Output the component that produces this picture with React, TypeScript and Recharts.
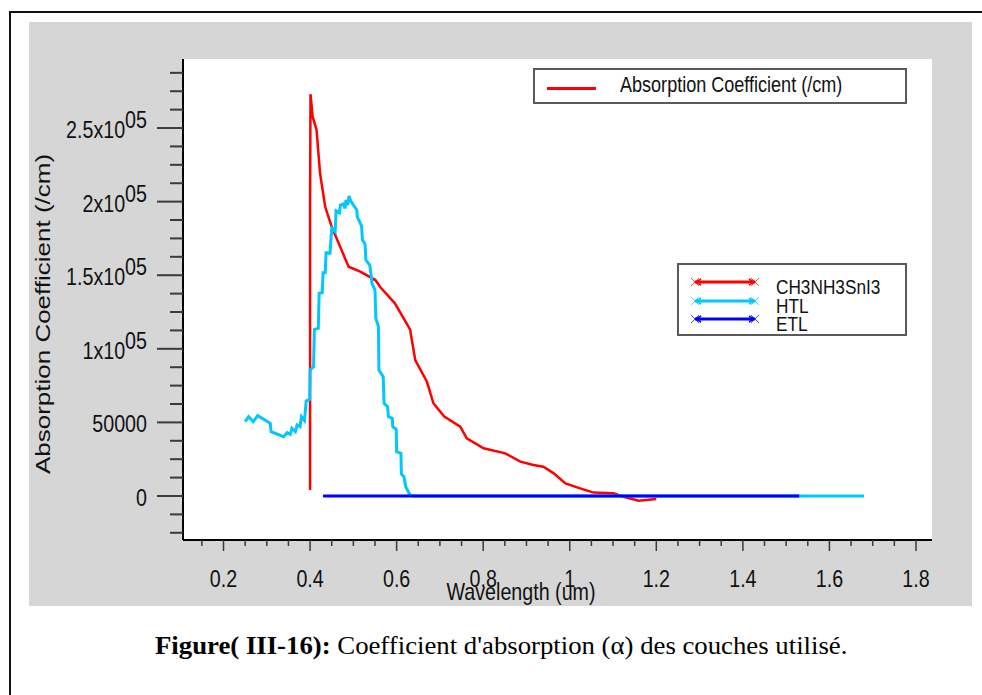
import React from "react";
import { LineChart, Line, XAxis, YAxis, CartesianGrid } from "recharts";

// CH3NH3SnI3 absorber
const absorberWavelength = [
  0.4, 0.4, 0.401, 0.406, 0.415, 0.423, 0.435, 0.45, 0.489, 0.516, 0.551, 0.562,
  0.596, 0.631, 0.643, 0.67, 0.685, 0.71, 0.747, 0.762, 0.801, 0.851, 0.886,
  0.916, 0.939, 0.963, 0.99, 1.024, 1.055, 1.101, 1.124, 1.159, 1.2,
];
const absorberAlpha = [
  4000, 200000, 273000, 257700, 248600, 219400, 196500, 182900, 155800, 152400,
  146700, 142000, 130900, 113200, 92400, 77600, 63000, 54000, 47100, 39200, 32400,
  29000, 23300, 21100, 19900, 15400, 8600, 5200, 2300, 1800, -500, -3200, -2000,
];

// HTL
const htlWavelength = [
  0.25, 0.258, 0.269, 0.279, 0.308, 0.31, 0.339, 0.347, 0.354, 0.358, 0.366, 0.37,
  0.377, 0.38, 0.387, 0.391, 0.399, 0.4, 0.408, 0.41, 0.419, 0.421, 0.428, 0.43,
  0.435, 0.437, 0.446, 0.45, 0.458, 0.46, 0.468, 0.47, 0.477, 0.481, 0.483, 0.487,
  0.49, 0.494, 0.5, 0.508, 0.509, 0.519, 0.521, 0.527, 0.529, 0.538, 0.542, 0.543,
  0.55, 0.552, 0.558, 0.559, 0.569, 0.571, 0.579, 0.581, 0.59, 0.591, 0.599, 0.6,
  0.61, 0.611, 0.617, 0.621, 0.631, 0.64, 1.68,
];
const htlAlpha = [
  50500, 53900, 50500, 54600, 49400, 43700, 40300, 43000, 41900, 46000, 43700,
  48200, 47100, 53900, 51200, 64500, 65700, 85600, 87800, 113200, 113900, 137700,
  138100, 151700, 151700, 165300, 164900, 181900, 179500, 193800, 192400, 197700,
  198400, 195400, 201100, 197700, 203800, 200600, 197700, 194300, 189700, 183400,
  173900, 171200, 160300, 156900, 147900, 144500, 139900, 120700, 115000, 85600,
  81000, 63000, 60700, 53900, 52800, 47100, 45300, 30100, 29000, 14900, 13100,
  6300, 700, 0, 0,
];

// ETL
const etlWavelength = [0.43, 1.53];
const etlAlpha = [0, 0];

const xTicks = [
  0.15, 0.2, 0.25, 0.3, 0.35, 0.4, 0.45, 0.5, 0.55, 0.6, 0.65, 0.7, 0.75, 0.8,
  0.85, 0.9, 0.95, 1, 1.05, 1.1, 1.15, 1.2, 1.25, 1.3, 1.35, 1.4, 1.45, 1.5, 1.55,
  1.6, 1.65, 1.7, 1.75, 1.8,
];
const xMajorTicks = [0.2, 0.4, 0.6, 0.8, 1, 1.2, 1.4, 1.6, 1.8];
const xMajorLabels = ["0.2", "0.4", "0.6", "0.8", "1", "1.2", "1.4", "1.6", "1.8"];

const yTicks = [
  -25000, -12500, 0, 12500, 25000, 37500, 50000, 62500, 75000, 87500, 100000,
  112500, 125000, 137500, 150000, 162500, 175000, 187500, 200000, 212500, 225000,
  237500, 250000, 262500, 275000, 287500,
];
const yMajorTicks = [0, 50000, 100000, 150000, 200000, 250000];
const yMajorLabels = [
  ["0", ""],
  ["50000", ""],
  ["1x10", "05"],
  ["1.5x10", "05"],
  ["2x10", "05"],
  ["2.5x10", "05"],
];

const xDomain = [0.1064, 1.837];
const yDomain = [-29900, 296900];

const toPoints = (xs: number[], ys: number[]) => xs.map((x, i) => ({ x, y: ys[i] }));

const series = [
  { name: "CH3NH3SnI3", color: "#ff0000", width: 2.5, data: toPoints(absorberWavelength, absorberAlpha) },
  { name: "HTL", color: "#00c8ff", width: 3, data: toPoints(htlWavelength, htlAlpha) },
  { name: "ETL", color: "#0000ff", width: 3, data: toPoints(etlWavelength, etlAlpha) },
];

const SANS = '"Liberation Sans", Arial, sans-serif';
const SERIF = '"Liberation Serif", "Times New Roman", serif';
const SQUEEZE = 0.82;

function YTick(props: any) {
  const { x, y, payload } = props;
  const i = yMajorTicks.indexOf(payload.value);
  const major = i >= 0;
  return (
    <g>
      <line x1={x - (major ? 26 : 13)} x2={x} y1={y} y2={y} stroke="#3a3a3a" strokeWidth={2} />
      {major && (
        <text
          transform={`translate(${x - 36},${y + 10}) scale(${SQUEEZE},1)`}
          textAnchor="end"
          fontFamily={SANS}
          fontSize={24}
          fill="#111"
        >
          {yMajorLabels[i][0]}
          {yMajorLabels[i][1] && <tspan dy={-10}>{yMajorLabels[i][1]}</tspan>}
        </text>
      )}
    </g>
  );
}

function XTick(props: any) {
  const { x, y, payload } = props;
  const i = xMajorTicks.findIndex((t) => Math.abs(t - payload.value) < 1e-6);
  const major = i >= 0;
  return (
    <g>
      <line x1={x} x2={x} y1={y} y2={y + (major ? 11 : 6)} stroke="#3a3a3a" strokeWidth={1.5} />
      {major && (
        <text
          transform={`translate(${x},${y + 47}) scale(${SQUEEZE},1)`}
          textAnchor="middle"
          fontFamily={SANS}
          fontSize={24}
          fill="#111"
        >
          {xMajorLabels[i]}
        </text>
      )}
    </g>
  );
}

const renderXTitle = () => (
  <text
    transform={`translate(492,578) scale(${SQUEEZE},1)`}
    textAnchor="middle"
    fontFamily={SANS}
    fontSize={24}
    fill="#111"
  >
    Wavelength (um)
  </text>
);

const renderYTitle = () => (
  <text
    transform="translate(14,292) scale(0.8,1) rotate(-90)"
    textAnchor="middle"
    dominantBaseline="central"
    fontFamily={SANS}
    fontSize={26}
    fill="#111"
  >
    Absorption Coefficient (/cm)
  </text>
);

function LegendSwatch({ color }: { color: string }) {
  return (
    <svg width={72} height={12} style={{ display: "block" }}>
      <line x1={6} x2={66} y1={6} y2={6} stroke={color} strokeWidth={3} />
      <path d="M2,2 L10,10 M2,10 L10,2" stroke={color} strokeWidth={1} opacity={0.7} />
      <path d="M62,2 L70,10 M62,10 L70,2" stroke={color} strokeWidth={1} opacity={0.7} />
      <path d="M12,3 L7,6 L12,9 M60,3 L65,6 L60,9" stroke={color} strokeWidth={1.5} fill="none" />
    </svg>
  );
}

export default function App() {
  return (
    <div
      style={{
        position: "absolute",
        left: 0,
        top: 0,
        width: 982,
        height: 695,
        overflow: "hidden",
        background: "#fff",
      }}
    >
      {/* page frame */}
      <div
        style={{
          position: "absolute",
          left: 9,
          top: 11,
          width: 1000,
          height: 1000,
          border: "2px solid #111",
        }}
      />
      {/* grey figure panel */}
      <div
        style={{
          position: "absolute",
          left: 29,
          top: 22,
          width: 943,
          height: 584,
          background: "#d6d6d6",
        }}
      >
        <LineChart width={943} height={584} margin={{ top: 37, right: 40, bottom: 0, left: 0 }}>
          <CartesianGrid fill="#fff" horizontal={false} vertical={false} />
          <XAxis
            dataKey="x"
            type="number"
            domain={xDomain}
            allowDataOverflow
            ticks={xTicks}
            interval={0}
            tick={(p: any) => <XTick {...p} />}
            tickSize={0}
            tickMargin={0}
            tickLine={false}
            height={66}
            axisLine={{ stroke: "#000", strokeWidth: 2 }}
            label={renderXTitle}
          />
          <XAxis
            xAxisId="top"
            orientation="top"
            type="number"
            domain={xDomain}
            allowDataOverflow
            height={0}
            tick={false}
            tickLine={false}
            axisLine={{ stroke: "#222", strokeWidth: 2 }}
          />
          <YAxis
            type="number"
            domain={yDomain}
            allowDataOverflow
            ticks={yTicks}
            interval={0}
            tick={(p: any) => <YTick {...p} />}
            tickSize={0}
            tickMargin={0}
            tickLine={false}
            width={154}
            axisLine={{ stroke: "#000", strokeWidth: 2 }}
            label={renderYTitle}
          />
          <YAxis
            yAxisId="right"
            orientation="right"
            type="number"
            domain={yDomain}
            allowDataOverflow
            width={0}
            tick={false}
            tickLine={false}
            axisLine={{ stroke: "#333", strokeWidth: 2 }}
          />
          {series.map((s) => (
            <Line
              key={s.name}
              data={s.data}
              dataKey="y"
              name={s.name}
              type="linear"
              stroke={s.color}
              strokeWidth={s.width}
              dot={false}
              activeDot={false}
              isAnimationActive={false}
            />
          ))}
        </LineChart>

        {/* legend: quantity */}
        <div
          style={{
            position: "absolute",
            left: 504,
            top: 46,
            width: 370,
            height: 32,
            border: "2px solid #5a5a5a",
            background: "#fff",
          }}
        >
          <div
            style={{
              position: "absolute",
              left: 12,
              top: 17,
              width: 49,
              height: 3,
              background: series[0].color,
            }}
          />
          <div
            style={{
              position: "absolute",
              left: 85,
              top: 2,
              fontFamily: SANS,
              fontSize: 22,
              lineHeight: "26px",
              whiteSpace: "nowrap",
              color: "#111",
              transform: `scaleX(${SQUEEZE})`,
              transformOrigin: "left center",
            }}
          >
            Absorption Coefficient (/cm)
          </div>
        </div>

        {/* legend: layers */}
        <div
          style={{
            position: "absolute",
            left: 648,
            top: 241,
            width: 226,
            height: 69,
            border: "2px solid #5a5a5a",
            background: "#fff",
          }}
        >
          {series.map((s, i) => (
            <div key={s.name}>
              <div style={{ position: "absolute", left: 10, top: 11 + i * 18.5 }}>
                <LegendSwatch color={s.color} />
              </div>
              <div
                style={{
                  position: "absolute",
                  left: 97,
                  top: 10 + i * 18.5,
                  fontFamily: SANS,
                  fontSize: 21,
                  lineHeight: "24px",
                  whiteSpace: "nowrap",
                  color: "#111",
                  transform: `scaleX(${SQUEEZE})`,
                  transformOrigin: "left center",
                }}
              >
                {s.name}
              </div>
            </div>
          ))}
        </div>
      </div>

      {/* caption */}
      <div
        style={{
          position: "absolute",
          left: 155,
          top: 632,
          fontFamily: SERIF,
          fontSize: 25,
          lineHeight: "28px",
          whiteSpace: "nowrap",
          color: "#000",
          transform: "scaleX(1.07)",
          transformOrigin: "left center",
        }}
      >
        <b>Figure( III-16):</b> Coefficient d'absorption (α) des couches utilisé.
      </div>
    </div>
  );
}
